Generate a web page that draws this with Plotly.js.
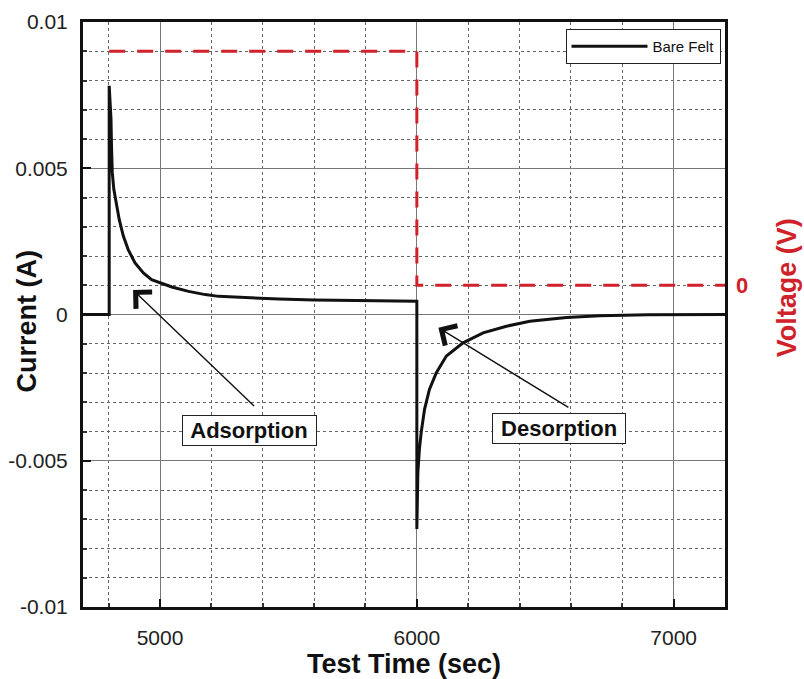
<!DOCTYPE html>
<html>
<head>
<meta charset="utf-8">
<script src="https://cdn.plot.ly/plotly-3.0.1.min.js"></script>
<style>html,body{margin:0;padding:0;background:#fff}#chart{width:804px;height:679px}</style>
</head>
<body>
<div id="chart"></div>
<script>
// Current trace (Bare Felt)
const timeCurrent = [4700, 4802, 4802, 4809, 4811, 4814, 4820, 4831, 4841, 4857, 4876, 4902, 4935, 4967, 5000, 5046, 5111, 5176, 5228, 5333, 5463, 5600, 5737, 5870, 6000, 6000, 6004, 6010, 6017, 6030, 6049, 6076, 6115, 6180, 6258, 6349, 6440, 6583, 6713, 6900, 7200];
const current = [0, 0, 0.00782, 0.00668, 0.00577, 0.00485, 0.00428, 0.00371, 0.00325, 0.00268, 0.00222, 0.00177, 0.00142, 0.00119, 0.00108, 0.00094, 0.00079, 0.00068, 0.00062, 0.00057, 0.00053, 0.0005, 0.00048, 0.00047, 0.00045, -0.00733, -0.0054, -0.0046, -0.00403, -0.00324, -0.00256, -0.00199, -0.00142, -0.00097, -0.00063, -0.0004, -0.00023, -0.0001, -0.00004, -0.00001, 0];

// Applied voltage step (right axis)
const timeVoltage = [4802, 6000, 6000, 7200];
const voltage = [0.8, 0.8, 0, 0];

// Tick labels
const xTickVals = [5000, 6000, 7000];
const xTickText = ['5000', '6000', '7000'];
const yTickVals = [0.01, 0.005, 0, -0.005, -0.01];
const yTickText = ['0.01', '0.005', '0', '-0.005', '-0.01'];
const y2TickVals = [0];
const y2TickText = ['0'];

const RED = '#d0222a';
const FONT = 'Liberation Sans, Arial, sans-serif';

const traces = [
  {
    x: timeVoltage, y: voltage, yaxis: 'y2', mode: 'lines', showlegend: false,
    line: {color: RED, width: 3, dash: '16px,12px'}, hoverinfo: 'skip'
  },
  {
    x: timeCurrent, y: current, mode: 'lines', name: 'Bare Felt',
    line: {color: '#111', width: 3}
  }
];

const layout = {
  width: 804, height: 679,
  margin: {l: 83, r: 79, t: 22, b: 72},
  paper_bgcolor: '#fff', plot_bgcolor: '#fff',
  font: {family: FONT, color: '#222'},
  showlegend: true,
  legend: {
    x: 0.993, y: 0.988, xanchor: 'right', yanchor: 'top',
    bgcolor: '#fff', bordercolor: '#222', borderwidth: 1,
    font: {family: FONT, size: 15, color: '#111'},
    itemwidth: 76
  },
  xaxis: {
    range: [4700, 7200],
    tickmode: 'array', tickvals: xTickVals, ticktext: xTickText,
    tickfont: {size: 21, color: '#222'},
    ticks: 'inside', ticklen: 8, tickwidth: 2, tickcolor: '#111',
    ticklabelstandoff: 10,
    showgrid: true, gridcolor: '#777', gridwidth: 1,
    zeroline: false,
    showline: true, linewidth: 3, linecolor: '#111', mirror: true,
    minor: {tickmode: 'linear', tick0: 4800, dtick: 200, showgrid: true, gridcolor: '#666', griddash: 'dot', gridwidth: 1, ticks: 'inside', ticklen: 4, tickcolor: '#333'},
    title: {text: 'Test Time (sec)', font: {size: 27, color: '#111', weight: 'bold'}, standoff: 14}
  },
  yaxis: {
    range: [-0.01, 0.01],
    tickmode: 'array', tickvals: yTickVals, ticktext: yTickText,
    tickfont: {size: 21, color: '#222'},
    ticks: 'inside', ticklen: 8, tickwidth: 2, tickcolor: '#111',
    ticklabelstandoff: 8,
    showgrid: true, gridcolor: '#777', gridwidth: 1,
    zeroline: false,
    showline: true, linewidth: 3, linecolor: '#111', mirror: true,
    minor: {tickmode: 'linear', tick0: 0, dtick: 0.001, showgrid: true, gridcolor: '#666', griddash: 'dot', gridwidth: 1, ticks: 'inside', ticklen: 4, tickcolor: '#333'}
  },
  yaxis2: {
    overlaying: 'y', side: 'right', range: [-1.1, 0.9],
    tickmode: 'array', tickvals: y2TickVals, ticktext: y2TickText,
    tickfont: {size: 22, color: RED, weight: 'bold'},
    ticks: '', ticklabelstandoff: 10,
    showgrid: false, zeroline: false, showline: false
  },
  annotations: [
    {x: 5348, y: -0.00395, xref: 'x', yref: 'y', text: ' Adsorption ', showarrow: false,
     font: {size: 22, color: '#111', weight: 'bold'}, bgcolor: '#fff', bordercolor: '#222', borderwidth: 1, borderpad: 2},
    {x: 6552, y: -0.00391, xref: 'x', yref: 'y', text: ' Desorption ', showarrow: false,
     font: {size: 22, color: '#111', weight: 'bold'}, bgcolor: '#fff', bordercolor: '#222', borderwidth: 1, borderpad: 2},
    {x: 4895, y: 0.00084, xref: 'x', yref: 'y', ax: 5372, ay: -0.00318, axref: 'x', ayref: 'y',
     text: '', showarrow: true, arrowhead: 4, arrowsize: 3.2, arrowwidth: 1.4, arrowcolor: '#111'},
    {x: 6084, y: -0.00045, xref: 'x', yref: 'y', ax: 6596, ay: -0.00321, axref: 'x', ayref: 'y',
     text: '', showarrow: true, arrowhead: 4, arrowsize: 3.2, arrowwidth: 1.4, arrowcolor: '#111'},
    {x: 0, y: 0.5, xref: 'paper', yref: 'paper', xanchor: 'center', yanchor: 'middle', xshift: -57, yshift: -7,
     text: 'Current (A)', textangle: -90, showarrow: false,
     font: {size: 27, color: '#111', weight: 'bold'}},
    {x: 1.0, y: 0.545, xref: 'paper', yref: 'paper', xanchor: 'center', yanchor: 'middle', xshift: 62,
     text: 'Voltage (V)', textangle: -90, showarrow: false,
     font: {size: 27, color: RED, weight: 'bold'}}
  ]
};

Plotly.newPlot('chart', traces, layout, {displayModeBar: false, staticPlot: true});
</script>
</body>
</html>
